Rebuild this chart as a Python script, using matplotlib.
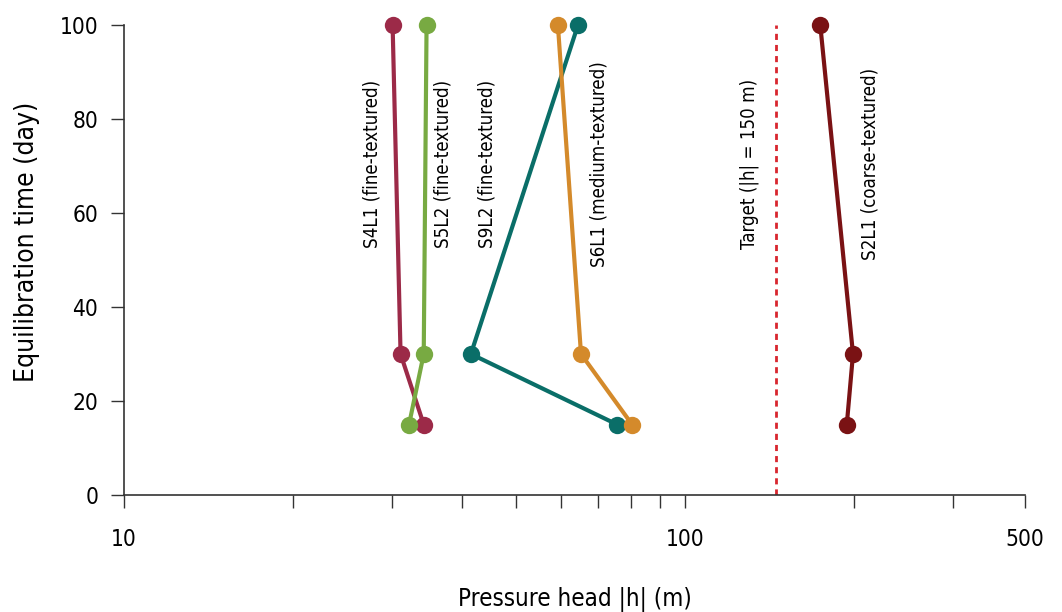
import matplotlib
matplotlib.use("Agg")
import matplotlib.pyplot as plt
from matplotlib.ticker import FixedLocator, NullFormatter

plt.rcParams['font.family'] = ['DejaVu Sans']
plt.rcParams['font.stretch'] = 'condensed'

# Data (equilibration time in days, pressure head |h| in m)
days = [100, 30, 15]
s4l1 = [30.1, 31.1, 34.2]
s5l2 = [34.6, 34.2, 32.2]
s9l2 = [64.4, 41.5, 75.6]
s6l1 = [59.3, 65.2, 80.4]
s2l1 = [174, 199, 194]
target = 145

series = [
    ("S4L1 (fine-textured)", s4l1, "#9c2a48", 27.7),
    ("S5L2 (fine-textured)", s5l2, "#78aa42", 37.0),
    ("S9L2 (fine-textured)", s9l2, "#0a6e68", 44.3),
    ("S6L1 (medium-textured)", s6l1, "#d48a2b", 70.2),
    ("S2L1 (coarse-textured)", s2l1, "#7a1214", 213),
]
label_y = 70.5

x_minor_ticks = [20, 30, 40, 50, 60, 70, 80, 90, 200, 300]
x_major_ticks = [10, 100, 403]
x_major_labels = ["10", "100", "500"]
y_ticks = [0, 20, 40, 60, 80, 100]

fig = plt.figure(figsize=(10.62, 6.12), dpi=100)
ax = fig.add_axes([124/1062, 1 - 495/612, (1025-124)/1062, (495-25)/612])

ax.set_xscale("log")
ax.set_xlim(10, 403)
ax.set_ylim(0, 100)

# Target line
ax.axvline(target, color="#d8262e", lw=2.0, linestyle=(0, (2.2, 1.8)), zorder=1)
ax.text(130, label_y, "Target (|h| = 150 m)", rotation=90, ha="center", va="center",
        fontsize=13.4, color="black")

for name, xs, col, lx in series:
    ax.plot(xs, days, color=col, lw=3.0, marker="o", markersize=12.5,
            markeredgewidth=0, zorder=3, clip_on=False)
    ax.text(lx, label_y, name, rotation=90, ha="center", va="center",
            fontsize=13.4, color="black")

axis_col = "#333333"
for side in ["top", "right"]:
    ax.spines[side].set_visible(False)
for side in ["left", "bottom"]:
    ax.spines[side].set_color(axis_col)
    ax.spines[side].set_linewidth(1.2)

ax.xaxis.set_major_locator(FixedLocator(x_major_ticks))
ax.xaxis.set_minor_locator(FixedLocator(x_minor_ticks))
ax.set_xticklabels(x_major_labels)
ax.xaxis.set_minor_formatter(NullFormatter())
ax.set_yticks(y_ticks)

ax.tick_params(axis="both", which="both", direction="out", length=9.5, width=1.0,
               color=axis_col, labelsize=16.3, labelcolor="black")
ax.tick_params(axis="x", which="both", pad=14)
ax.tick_params(axis="y", pad=9)

ax.set_xlabel("Pressure head |h| (m)", fontsize=17.3)
ax.xaxis.set_label_coords(0.5, (495 - 600) / 470)
ax.xaxis.label.set_verticalalignment("center")

ax.set_ylabel("Equilibration time (day)", fontsize=19)
ax.yaxis.set_label_coords((27 - 124) / 901, (495 - 241.5) / 470)
ax.yaxis.label.set_verticalalignment("center")

fig.savefig("out.png", dpi=100, facecolor="white")
